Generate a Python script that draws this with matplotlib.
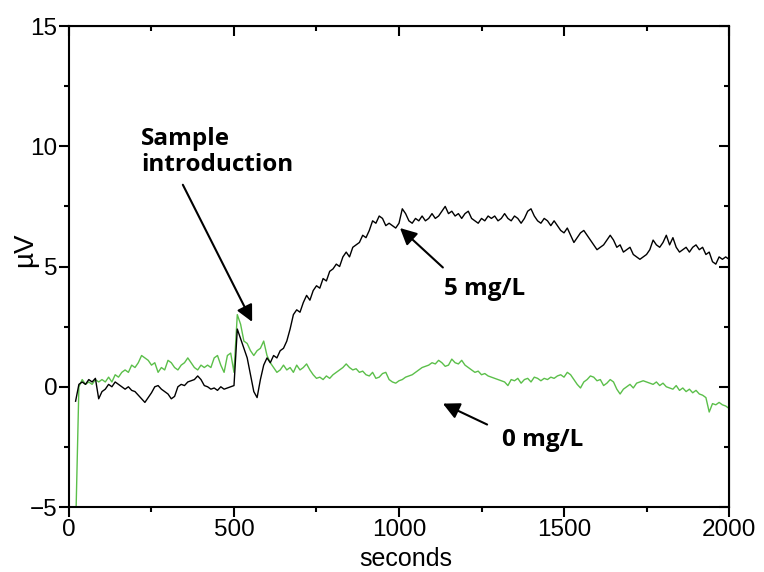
import numpy as np
import matplotlib
matplotlib.use("Agg")
import matplotlib.pyplot as plt
from matplotlib.ticker import MultipleLocator

# Zeitachse (s) und Signale (µV)
t = np.arange(20, 2001, 10)

conc_5 = [
    -0.6, 0.1, 0.2, 0.1, 0.3, 0.2, 0.35, -0.5, -0.2, -0.1,
    0.1, 0.0, 0.2, 0.1, 0.0, -0.1, 0.0, -0.15, -0.2, -0.35,
    -0.5, -0.65, -0.45, -0.25, 0.0, 0.05, -0.1, -0.2, -0.3, -0.5,
    -0.4, 0.0, 0.1, 0.05, 0.2, 0.25, 0.3, 0.45, 0.3, 0.05,
    0.0, -0.1, -0.05, -0.15, 0.0, -0.1, -0.05, 0.0, 0.05, 2.4,
    2.0, 1.6, 1.2, 0.5, -0.2, -0.45, 0.3, 0.9, 1.2, 1.0,
    1.3, 1.2, 1.5, 1.6, 1.9, 2.4, 3.0, 3.2, 3.1, 3.5,
    3.8, 3.6, 4.0, 4.2, 4.1, 4.5, 4.4, 4.8, 4.9, 5.1,
    5.0, 5.4, 5.6, 5.4, 5.8, 5.9, 6.0, 6.3, 6.2, 6.5,
    6.9, 6.8, 7.1, 7.0, 6.7, 6.8, 6.7, 6.6, 6.8, 7.4,
    7.2, 6.9, 6.8, 7.0, 6.9, 7.1, 6.9, 7.0, 7.2, 7.0,
    7.1, 7.3, 7.5, 7.2, 7.3, 7.1, 7.2, 7.0, 7.2, 7.3,
    7.0, 6.9, 6.8, 7.0, 6.9, 7.1, 7.0, 7.1, 6.9, 7.0,
    7.2, 7.0, 6.9, 7.1, 7.0, 6.8, 7.0, 7.3, 7.4, 7.1,
    6.9, 6.8, 7.0, 6.9, 6.7, 6.9, 6.7, 6.5, 6.4, 6.6,
    6.3, 6.0, 6.2, 6.4, 6.5, 6.3, 6.1, 5.9, 5.7, 5.8,
    5.9, 6.1, 6.3, 6.1, 5.8, 5.9, 5.6, 5.7, 5.8, 5.5,
    5.4, 5.3, 5.4, 5.5, 5.7, 6.1, 5.9, 5.8, 6.0, 6.3,
    5.9, 6.2, 5.8, 5.6, 5.7, 5.8, 5.6, 5.8, 5.9, 5.7,
    5.8, 5.5, 5.6, 5.2, 5.1, 5.4, 5.3, 5.4, 5.3,
]

conc_0 = [
    -6.0, 0.0, 0.3, 0.1, 0.2, 0.1, 0.3, 0.2, 0.3, 0.2,
    0.4, 0.2, 0.5, 0.4, 0.6, 0.7, 0.6, 0.9, 0.8, 1.0,
    1.3, 1.2, 1.1, 0.9, 1.0, 0.6, 0.8, 0.7, 1.1, 1.0,
    0.8, 0.7, 0.9, 1.0, 1.2, 1.0, 0.8, 0.7, 0.9, 0.8,
    0.9, 0.8, 1.2, 1.3, 0.9, 0.6, 1.3, 1.4, 0.6, 3.0,
    2.6, 1.9, 1.8, 1.5, 1.3, 1.5, 1.6, 1.9, 1.3, 1.0,
    0.8, 0.6, 0.7, 0.9, 0.7, 0.8, 0.6, 0.9, 0.7, 0.8,
    0.95, 0.7, 0.5, 0.35, 0.4, 0.3, 0.45, 0.35, 0.5, 0.6,
    0.7, 0.8, 0.95, 0.8, 0.7, 0.75, 0.6, 0.65, 0.5, 0.45,
    0.6, 0.35, 0.4, 0.55, 0.6, 0.3, 0.2, 0.15, 0.25, 0.3,
    0.4, 0.45, 0.5, 0.6, 0.7, 0.8, 0.85, 0.9, 1.0, 0.95,
    1.1, 1.0, 0.85, 0.9, 1.15, 1.0, 0.95, 1.1, 0.9, 0.8,
    0.7, 0.6, 0.65, 0.5, 0.55, 0.45, 0.4, 0.35, 0.3, 0.25,
    0.2, 0.05, 0.3, 0.25, 0.35, 0.15, 0.3, 0.35, 0.2, 0.4,
    0.35, 0.25, 0.35, 0.3, 0.4, 0.35, 0.45, 0.5, 0.4, 0.6,
    0.5, 0.3, 0.1, -0.05, 0.2, 0.3, 0.45, 0.4, 0.25, 0.3,
    0.05, 0.15, 0.3, 0.2, -0.1, -0.3, -0.1, 0.0, 0.1, -0.05,
    0.15, 0.2, 0.25, 0.2, 0.15, 0.1, 0.2, 0.05, 0.15, 0.0,
    -0.05, -0.1, 0.05, -0.15, -0.05, -0.2, -0.1, -0.25, -0.15, -0.3,
    -0.35, -0.45, -1.05, -0.7, -0.75, -0.65, -0.75, -0.8, -0.9,
]

plt.rcParams['font.family'] = ['Liberation Sans', 'DejaVu Sans']

fig = plt.figure(figsize=(7.64, 5.72), dpi=100)
ax = fig.add_axes([0.0903, 0.1136, 0.8639, 0.8409])

ax.plot(t, conc_0, color='#5bbf4a', lw=1.0, zorder=2)
ax.plot(t, conc_5, color='black', lw=1.0, zorder=3)

ax.set_xlim(0, 2000)
ax.set_ylim(-5, 15)
ax.xaxis.set_major_locator(MultipleLocator(500))
ax.xaxis.set_minor_locator(MultipleLocator(250))
ax.yaxis.set_major_locator(MultipleLocator(5))
ax.yaxis.set_minor_locator(MultipleLocator(2.5))

for s in ax.spines.values():
    s.set_linewidth(1.5)

ax.tick_params(which='both', width=1.5, labelsize=17.5, pad=1.5)
ax.tick_params(which='major', length=7)
ax.tick_params(which='minor', length=3.5)
ax.tick_params(axis='both', which='both', direction='out', top=False, right=False)
ax2 = ax.secondary_xaxis('top')
ax2.xaxis.set_major_locator(MultipleLocator(500))
ax2.xaxis.set_minor_locator(MultipleLocator(250))
ax2.tick_params(which='both', direction='in', width=1.5, labeltop=False)
ax2.tick_params(which='major', length=7)
ax2.tick_params(which='minor', length=3.5)
ax3 = ax.secondary_yaxis('right')
ax3.yaxis.set_major_locator(MultipleLocator(5))
ax3.yaxis.set_minor_locator(MultipleLocator(2.5))
ax3.tick_params(which='both', direction='in', width=1.5, labelright=False)
ax3.tick_params(which='major', length=7)
ax3.tick_params(which='minor', length=3.5)

ax.set_xlabel('seconds', fontsize=18)
ax.xaxis.set_label_coords(0.51, -0.132)
ax.xaxis.label.set_va('bottom')
ax.set_ylabel('µV', fontsize=20)
ax.yaxis.set_label_coords(-0.047, 0.535)

bold = dict(fontsize=17.5, fontweight='bold', family=['Open Sans', 'DejaVu Sans'])
pfeil = dict(arrowstyle='-|>', color='black', lw=1.5, mutation_scale=25, shrinkA=0, shrinkB=0)

ax.text(218, 9.75, 'Sample\nintroduction', ha='left', va='center', linespacing=1.1, **bold)
ax.annotate('', xy=(555, 2.7), xytext=(345, 8.4), arrowprops=pfeil)

ax.text(1136, 4.05, '5 mg/L', ha='left', va='center', **bold)
ax.annotate('', xy=(1003, 6.6), xytext=(1133, 4.96), arrowprops=pfeil)

ax.text(1312, -2.2, '0 mg/L', ha='left', va='center', **bold)
ax.annotate('', xy=(1133, -0.7), xytext=(1267, -1.57), arrowprops=pfeil)

fig.savefig('out.png', dpi=100)
